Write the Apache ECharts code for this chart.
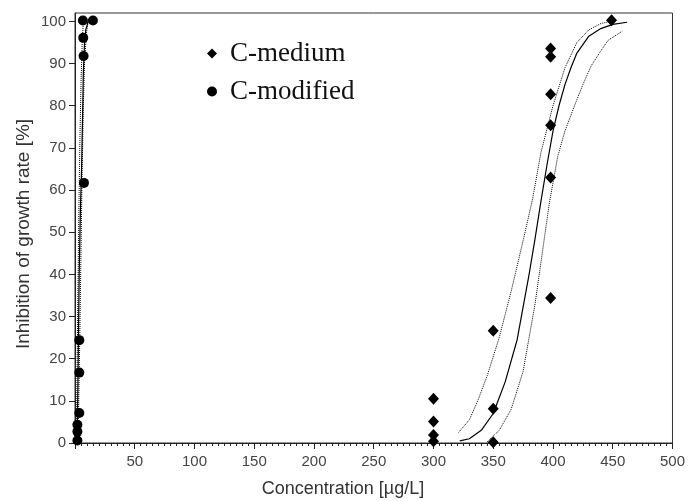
<!DOCTYPE html>
<html>
<head>
<meta charset="utf-8">
<script src="https://cdn.jsdelivr.net/npm/echarts@6/dist/echarts.min.js"></script>
<style>
html,body{margin:0;padding:0;background:#fff;}
#chart{width:688px;height:501px;}
</style>
</head>
<body>
<div id="chart"></div>
<script>
// ---- data ----
const xTickLabels = [50,100,150,200,250,300,350,400,450,500];
const yTickLabels = [0,10,20,30,40,50,60,70,80,90,100];

// C-medium observations [concentration, inhibition]
const mediumPoints = [
  [300,10.5],[300,5.1],[300,1.9],[300,0.4],
  [350,26.6],[350,8.1],[350,0.2],
  [398,93.6],[398,91.6],[398,82.7],[398,75.4],[398,63.0],[398,34.4],
  [449,100.3]
];
// C-modified observations
const modifiedPoints = [
  [2,0.6],[2,2.7],[2,4.3],
  [3.6,7.1],[3.6,16.7],[3.6,24.4],
  [7.5,61.7],[7.2,91.8],[6.9,96.1],[6.6,100.2],[15,100.2]
];

// fitted curves
const mediumFit = [
  [322,0.5],[330,1],[340,3],[350,7],[360,14.5],[370,24.5],[380,40],[385,48.5],
  [390,57.5],[395,66],[400,74],[405,80],[410,85],[415,89],[420,92.5],[430,96.5],
  [440,98.3],[450,99.3],[462,99.8]
];
const mediumUpper = [
  [321,2.5],[330,5.5],[337,10],[345,16],[355,25],[365,36],[375,48],[383,58],
  [390,69],[400,80],[410,89],[420,95],[430,98],[440,99.5],[448,100]
];
const mediumLower = [
  [345,0.3],[355,3],[365,8],[375,17],[385,33],[392,47],[397,57],[404,68],
  [410,74],[418,80],[425,85],[432,89.5],[440,93],[446,95.5],[458,97.7]
];
const modifiedFit = [
  [1.5,0],[2,5],[2.5,15],[3,28],[3.5,40],[4.5,55],[5.5,65],[6.5,80],[7,88],
  [8,95],[9,98],[11,100]
];
const modifiedUpper = [
  [0.8,0],[1.5,10],[2,25],[3,50],[4,70],[5,85],[6,95],[7,100]
];
const modifiedLower = [
  [2.5,0],[3,8],[4,25],[5,45],[6,65],[7,80],[8,90],[9.5,97],[11,100]
];

const chart = echarts.init(document.getElementById('chart'), null, {renderer:'canvas'});
const lineBase = {type:'line', showSymbol:false, symbol:'none', silent:true, z:2};
const option = {
  backgroundColor:'#fff',
  animation:false,
  grid:{left:75, right:13, top:13, bottom:58, show:true, borderColor:'#333', borderWidth:1, backgroundColor:'transparent'},
  legend:{
    data:[{name:'C-medium', icon:'diamond'},{name:'C-modified', icon:'circle'}],
    orient:'vertical', left:207, top:40, padding:0, itemGap:11,
    itemWidth:10, itemHeight:10,
    itemStyle:{color:'#000', opacity:1},
    textStyle:{fontFamily:'Liberation Serif', fontSize:27, color:'#111', padding:[0,0,0,8]}
  },
  xAxis:{
    type:'value', min:0, max:500, interval:50,
    axisLine:{show:true, onZero:false, lineStyle:{color:'#222', width:1}},
    axisTick:{show:true, inside:false, length:6, lineStyle:{color:'#222'}},
    minorTick:{show:true, splitNumber:10, length:3, lineStyle:{color:'#222'}},
    splitLine:{show:false},
    axisLabel:{customValues:xTickLabels, margin:11, fontFamily:'Liberation Sans', fontSize:15, color:'#444'}
  },
  yAxis:{
    type:'value', min:0, max:102, interval:10,
    axisLine:{show:true, onZero:false, lineStyle:{color:'#222', width:1}},
    axisTick:{show:true, inside:false, length:6, customValues:yTickLabels, lineStyle:{color:'#222'}},
    splitLine:{show:false},
    axisLabel:{customValues:yTickLabels, margin:9, fontFamily:'Liberation Sans', fontSize:15, color:'#444'}
  },
  graphic:[
    {type:'text', x:343, y:489, style:{text:'Concentration [µg/L]', x:0, y:0, align:'center', verticalAlign:'middle', font:'18px "Liberation Sans"', fill:'#333'}},
    {type:'text', x:24, y:234, rotation:Math.PI/2, style:{text:'Inhibition of growth rate [%]', x:0, y:0, align:'center', verticalAlign:'middle', font:'19px "Liberation Sans"', fill:'#333'}}
  ],
  series:[
    Object.assign({}, lineBase, {name:'mediumFit', data:mediumFit, lineStyle:{color:'#000', width:1.2}}),
    Object.assign({}, lineBase, {name:'mediumUpper', data:mediumUpper, lineStyle:{color:'#000', width:1, type:'dotted'}}),
    Object.assign({}, lineBase, {name:'mediumLower', data:mediumLower, lineStyle:{color:'#000', width:1, type:'dotted'}}),
    Object.assign({}, lineBase, {name:'modifiedFit', data:modifiedFit, lineStyle:{color:'#000', width:1.2}}),
    Object.assign({}, lineBase, {name:'modifiedUpper', data:modifiedUpper, lineStyle:{color:'#000', width:1, type:'dotted'}}),
    Object.assign({}, lineBase, {name:'modifiedLower', data:modifiedLower, lineStyle:{color:'#000', width:1, type:'dotted'}}),
    {name:'C-medium', type:'scatter', symbol:'diamond', symbolSize:[11,12], data:mediumPoints, itemStyle:{color:'#000', opacity:1}, z:3},
    {name:'C-modified', type:'scatter', symbol:'circle', symbolSize:10, data:modifiedPoints, itemStyle:{color:'#000', opacity:1}, z:3}
  ]
};
chart.setOption(option);
</script>
</body>
</html>
